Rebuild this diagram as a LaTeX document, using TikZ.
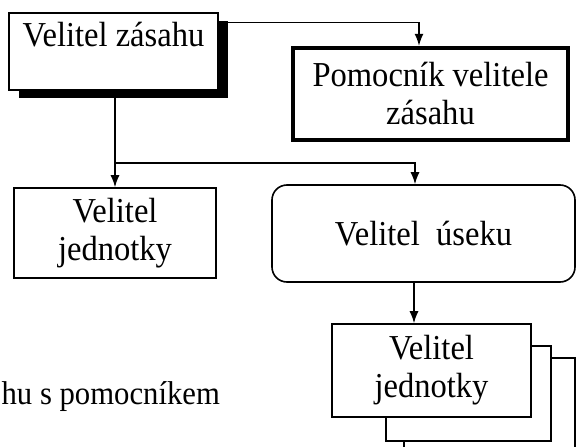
\documentclass[tikz,border=0pt]{standalone}
\usepackage{fontspec}
\setmainfont{Liberation Serif}[FakeStretch=0.93]
\usetikzlibrary{arrows.meta,shadows}

\begin{document}
\begin{tikzpicture}[x=1pt,y=-1pt,>={Latex[length=12pt,width=9pt]},line width=1.3pt,
    box/.style={rectangle,draw,line width=1.6pt,fill=white,inner sep=0pt,align=center,font=\fontsize{35}{38}\selectfont},
    thick box/.style={box,line width=4.5pt},
    round box/.style={box,rounded corners=15pt}]

                \useasboundingbox (0,0) rectangle (576,447);

                \node[box, drop shadow={shadow xshift=10pt,shadow yshift=-8pt,fill=black,opacity=1},
                      minimum width=209pt, text height=33pt, text depth=44pt] (zasah) at (113.5,51.5) {Velitel zásahu};
                \node[thick box, minimum width=275pt, minimum height=92pt] (pomocnik) at (430.5,94) {Pomocník velitele\\zásahu};
                \node[box, minimum width=202pt, minimum height=90pt] (jednotka) at (115,233) {Velitel\\jednotky};
                \node[round box, minimum width=303pt, minimum height=97pt] (usek) at (423.5,233.5) {Velitel\ \ úseku};

                \node[box, minimum width=171pt, minimum height=122pt] (jednotka3) at (489.5,419) {};
                \node[box, minimum width=165pt, minimum height=95pt] (jednotka2) at (468.5,393.5) {};
                \node[box, minimum width=199pt, minimum height=93pt] (jednotka1) at (431.5,370.5) {Velitel\\jednotky};

                \node[anchor=base west, inner sep=0pt, font=\fontsize{33}{38}\selectfont] (popis) at (1,404) {hu s pomocníkem};

                \coordinate (split) at (115,163);
                \coordinate (down) at (414,300);

                \draw[->] ([yshift=-10pt]zasah.north east) -| ([xshift=-11.5pt]pomocnik.north);
                \draw[-] (zasah.south -| split) to (split);
                \draw[->] (split) to (jednotka.north -| split);
                \draw[->] (split) -| ([xshift=-8.5pt]usek.north);
                \draw[->] (usek.south -| down) to (jednotka1.north -| down);

                ;
            \end{tikzpicture}
\end{document}
